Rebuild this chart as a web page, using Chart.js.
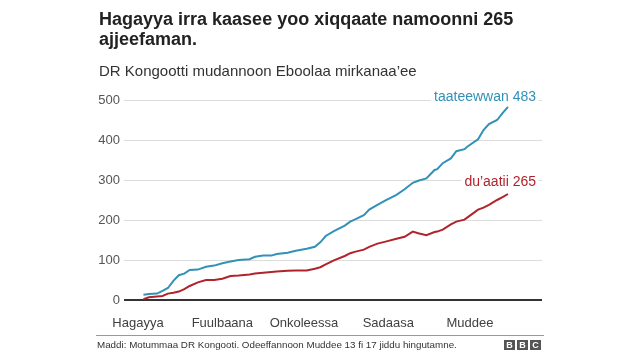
<!DOCTYPE html>
<html>
<head>
<meta charset="utf-8">
<script src="https://cdn.jsdelivr.net/npm/chart.js@4/dist/chart.umd.min.js"></script>
<style>
  html, body { margin: 0; padding: 0; background: #fff; }
  #wrap { position: relative; width: 640px; height: 360px; overflow: hidden; font-family: "Liberation Sans", Arial, sans-serif; }
  #c { position: absolute; left: 0; top: 0; }
  .title { position: absolute; left: 99px; top: 9px; font-size: 18px; font-weight: bold; line-height: 20px; color: #222; }
  .subtitle { position: absolute; left: 99px; top: 62px; font-size: 15px; color: #333; }
  .rule { position: absolute; left: 96px; top: 335px; width: 448px; height: 0; border-top: 1px solid #999; }
  .source { position: absolute; left: 97px; top: 339px; font-size: 9.8px; color: #333; }
  .bbc { position: absolute; left: 504px; top: 340px; display: flex; gap: 2px; }
  .bbc span { display: block; width: 11px; height: 10px; background: #555; color: #fff; font-size: 9px; font-weight: bold; line-height: 10px; text-align: center; }
</style>
</head>
<body>
<div id="wrap">
  <canvas id="c" width="640" height="360"></canvas>
  <div class="title">Hagayya irra kaasee yoo xiqqaate namoonni 265<br>ajjeefaman.</div>
  <div class="subtitle">DR Kongootti mudannoon Eboolaa mirkanaa’ee</div>
  <div class="rule"></div>
  <div class="source">Maddi: Motummaa DR Kongooti. Odeeffannoon Muddee 13 fi 17 jiddu hingutamne.</div>
  <div class="bbc"><span>B</span><span>B</span><span>C</span></div>
</div>
<script>
// days since 1 August 2018
const days = [2,4,7,9,11,13,15,17,19,22,25,28,31,34,37,41,43,46,49,51,55,58,62,65,67,69,72,76,78,80,83,85,88,91,95,98,101,103,106,109,110,112,115,117,120,121,125,127,129,132,134,136];
const confirmed = [13,15,16,23,30,48,62,66,75,76,83,86,92,96,100,102,108,111,111,115,118,123,128,133,144,160,172,186,196,202,212,226,238,249,263,277,293,298,304,325,327,342,354,372,377,383,402,425,440,450,467,483];
const deaths = [2,7,9,10,16,18,21,27,35,44,50,50,53,60,61,64,66,68,70,71,73,74,74,78,82,89,99,110,117,121,126,133,141,146,153,158,171,167,162,170,171,176,189,196,201,206,226,231,238,250,257,265];
const monthDays = [0,31,61,92,122];
const monthLabels = ["Hagayya","Fuulbaana","Onkoleessa","Sadaasa","Muddee"];
const yTicks = [0,100,200,300,400,500];
const seriesLabels = ["taateewwan 483","du’aatii 265"];

const BLUE = "#3291b6";
const RED = "#b1232b";

const toPts = arr => days.map((d, i) => ({ x: d, y: arr[i] }));

const endLabels = {
  id: "endLabels",
  afterDatasetsDraw(chart) {
    const { ctx, scales: { x, y } } = chart;
    const items = [
      { text: seriesLabels[0], color: BLUE, val: confirmed[confirmed.length - 1], dy: -10 },
      { text: seriesLabels[1], color: RED, val: deaths[deaths.length - 1], dy: -12 }
    ];
    ctx.save();
    ctx.font = "14px 'Liberation Sans', Arial, sans-serif";
    ctx.textAlign = "right";
    ctx.textBaseline = "middle";
    items.forEach(it => {
      const px = x.getPixelForValue(days[days.length - 1]) + 28;
      const py = y.getPixelForValue(it.val) + it.dy;
      const w = ctx.measureText(it.text).width;
      ctx.fillStyle = "#fff";
      ctx.fillRect(px - w - 3, py - 8, w + 6, 16);
      ctx.fillStyle = it.color;
      ctx.fillText(it.text, px, py);
    });
    ctx.restore();
  }
};

new Chart(document.getElementById("c"), {
  type: "line",
  data: {
    datasets: [
      { data: toPts(confirmed), borderColor: BLUE, borderWidth: 2, pointRadius: 0, tension: 0, fill: false },
      { data: toPts(deaths), borderColor: RED, borderWidth: 2, pointRadius: 0, tension: 0, fill: false }
    ]
  },
  options: {
    responsive: false,
    animation: false,
    events: [],
    layout: { padding: { top: 100, right: 98, left: 0, bottom: 0 } },
    plugins: { legend: { display: false }, tooltip: { enabled: false }, title: { display: false } },
    scales: {
      x: {
        type: "linear",
        min: -5.15,
        max: 148.5,
        afterBuildTicks(scale) { scale.ticks = monthDays.map(v => ({ value: v })); },
        afterFit(scale) { scale.height = 60; },
        grid: { display: false, drawTicks: false },
        border: { display: false },
        ticks: {
          autoSkip: false,
          maxRotation: 0,
          padding: 16,
          color: "#404040",
          font: { family: "'Liberation Sans', Arial, sans-serif", size: 13 },
          callback: (v) => { const i = monthDays.indexOf(v); return i >= 0 ? monthLabels[i] : ""; }
        }
      },
      y: {
        min: 0,
        max: 500,
        afterBuildTicks(scale) { scale.ticks = yTicks.map(v => ({ value: v })); },
        afterFit(scale) { scale.width = 124; },
        grid: {
          drawTicks: false,
          color: (c) => c.tick && c.tick.value === 0 ? "#333" : "#dcdcdc",
          lineWidth: (c) => c.tick && c.tick.value === 0 ? 2 : 1
        },
        border: { display: false },
        ticks: {
          padding: 4,
          color: "#555",
          font: { family: "'Liberation Sans', Arial, sans-serif", size: 13 }
        }
      }
    }
  },
  plugins: [endLabels]
});
</script>
</body>
</html>
